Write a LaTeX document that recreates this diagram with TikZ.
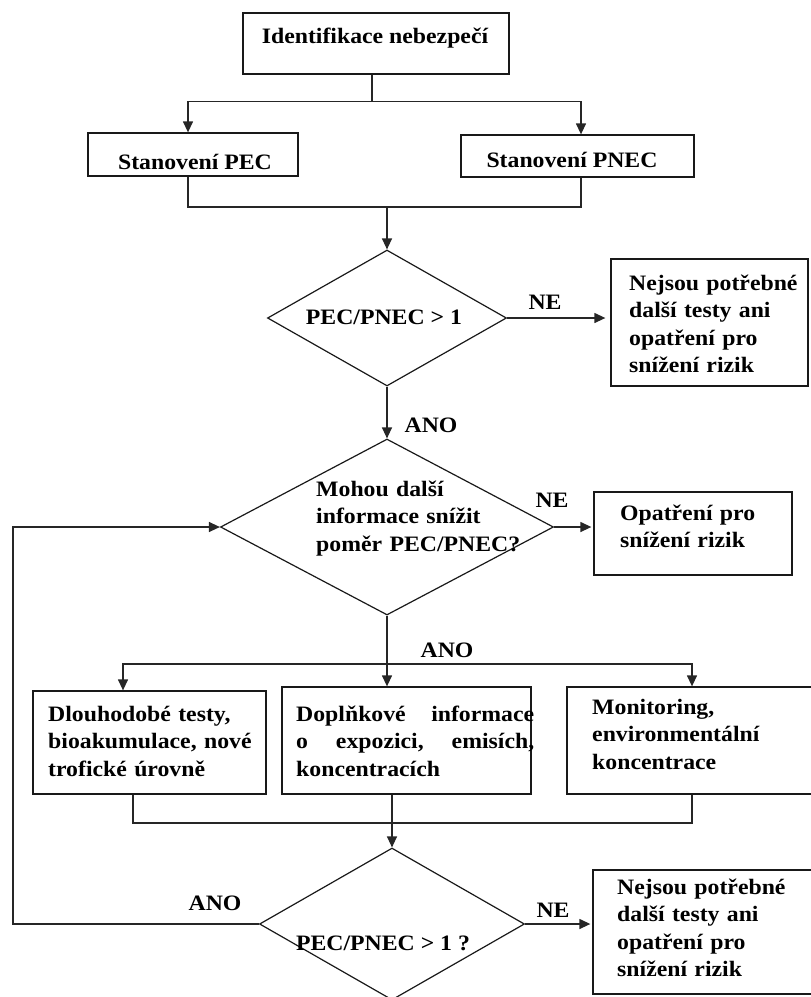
\documentclass[tikz,border=0pt]{standalone}
\usepackage{fontspec}
\setmainfont{Liberation Serif}[FakeStretch=1.08]
\usetikzlibrary{arrows.meta,shapes.geometric,calc}
\begin{document}
\begin{tikzpicture}[x=1pt,y=-1pt,
  box/.style={draw=black!90, line width=1.3pt, rectangle, inner sep=0pt},
  dia/.style={draw=black!90, line width=1.2pt, diamond, inner sep=0pt, aspect=1},
  txt/.style={inner sep=0pt, font=\fontsize{22}{27.5}\selectfont\bfseries, text=black},
  lbl/.style={txt, anchor=base},
  ml/.style={txt, anchor=base west, align=left},
  conn/.style={draw=black!85, line width=1.3pt},
  arr/.style={conn, -{Triangle[length=11pt,width=10pt]}}]
\useasboundingbox (0,0) rectangle (811,997);

% boxes
\node[box, minimum width=266pt, minimum height=61pt] (top) at (376,43.5) {};
\node[box, minimum width=210pt, minimum height=43pt] (pec) at (193,154.5) {};
\node[box, minimum width=233pt, minimum height=42pt] (pnec) at (577.5,156) {};
\node[box, minimum width=197pt, minimum height=127pt] (stop1) at (709.5,322.5) {};
\node[box, minimum width=198pt, minimum height=83pt] (opat) at (693,533.5) {};
\node[box, minimum width=233pt, minimum height=103pt] (boxa) at (149.5,742.5) {};
\node[box, minimum width=249pt, minimum height=107pt] (boxb) at (406.5,740.5) {};
\node[box, minimum width=248pt, minimum height=107pt] (boxc) at (691,740.5) {};
\node[box, minimum width=222pt, minimum height=124pt] (stop2) at (704,932) {};

% diamonds
\node[dia, minimum width=239pt, minimum height=136pt] (d1) at (387,318) {};
\node[dia, minimum width=333pt, minimum height=176pt] (d2) at (387,527) {};
\node[dia, minimum width=265pt, minimum height=152pt] (d3) at (392,924) {};

% texts
\node[lbl] (ttop) at (375,43) {Identifikace nebezpečí};
\node[lbl] (tpec) at (195,169) {Stanovení PEC};
\node[lbl] (tpnec) at (572,167) {Stanovení PNEC};
\node[lbl] (td1) at (384,324) {PEC/PNEC > 1};
\node[ml, text width=185pt] (tstop1) at (629,290) {Nejsou potřebné\\další testy ani\\opatření pro\\snížení rizik};
\node[ml, text width=260pt] (td2) at (316,496) {Mohou další\\informace snížit\\poměr PEC/PNEC?};
\node[ml, text width=170pt] (topat) at (620,520) {Opatření pro\\snížení rizik};
\node[ml, text width=215pt] (ta) at (48,721) {Dlouhodobé testy,\\bioakumulace, nové\\trofické úrovně};
\node[ml, text width=238pt] (tb) at (296,721) {Doplňkové\hfill informace\\o\hfill expozici,\hfill emisích,\\koncentracích};
\node[ml, text width=215pt] (tc) at (592,714) {Monitoring,\\environmentální\\koncentrace};
\node[lbl] (td3) at (383,950) {PEC/PNEC > 1 ?};
\node[ml, text width=190pt] (tstop2) at (617,894) {Nejsou potřebné\\další testy ani\\opatření pro\\snížení rizik};

% edge labels
\node[lbl] (ne1) at (545,309) {NE};
\node[lbl] (ano1) at (431,432) {ANO};
\node[lbl] (ne2) at (552,507) {NE};
\node[lbl] (ano2) at (447,657) {ANO};
\node[lbl] (ano3) at (215,910) {ANO};
\node[lbl] (ne3) at (553,917) {NE};

% connectors
\draw[conn] ([xshift=-4pt]top.south) -- ++(0,27) coordinate (t1);
\draw[arr] (t1) -| ([xshift=-5pt]pec.north);
\draw[arr] (t1) -| ([xshift=3.5pt]pnec.north);
\coordinate (m1) at (387,207);
\draw[conn] ([xshift=-5pt]pec.south) |- (m1) -| ([xshift=3.5pt]pnec.south);
\draw[arr] (m1) -- (d1.north);
\draw[arr] (d1.east) -- ([xshift=-5pt]d1.east -| stop1.west);
\draw[arr] (d1.south) -- (d2.north);
\draw[arr] (d2.east) -- ([xshift=-2pt]d2.east -| opat.west);
\coordinate (m2) at (387,664);
\draw[arr] (d2.south) -- (d2.south |- boxb.north);
\draw[arr] (m2) -| ([xshift=-26.5pt]boxa.north);
\draw[arr] (m2) -| ([xshift=1pt]boxc.north);
\coordinate (m3) at (392,823);
\draw[conn] ([xshift=-16.5pt]boxa.south) |- (m3) -| ([xshift=1pt]boxc.south);
\draw[arr] ([xshift=-14.5pt]boxb.south) -- (d3.north);
\draw[arr] (d3.east) -- ([xshift=-2pt]d3.east -| stop2.west);
\coordinate (lp) at (13,924);
\draw[arr] (d3.west) -- (lp) |- (d2.west);
\end{tikzpicture}
\end{document}
